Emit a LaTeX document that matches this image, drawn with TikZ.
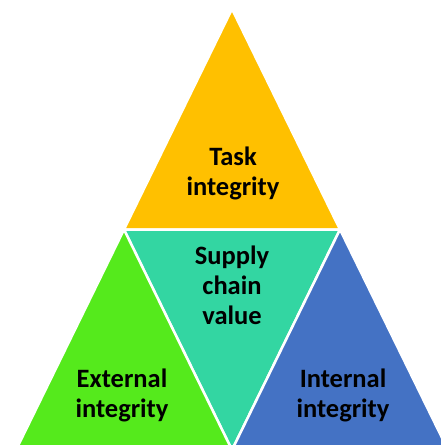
\documentclass[tikz,border=0pt]{standalone}
\usepackage{fontspec}
\setmainfont{Carlito}
\definecolor{cTop}{HTML}{FFC000}
\definecolor{cMid}{HTML}{33D6A2}
\definecolor{cLeft}{HTML}{55EA1C}
\definecolor{cRight}{HTML}{4472C4}
\tikzset{
  tri/.style={draw=white, line width=2.5pt, line join=miter},
  lbl/.style={align=center, font=\fontsize{26.5}{30}\selectfont\bfseries, text=black, inner sep=0pt}
}
\begin{document}
\begin{tikzpicture}[x=1pt,y=-1pt]
\useasboundingbox (0,0) rectangle (441,445);
\begin{scope}
\clip (0,0) rectangle (441,445);
\fill[white] (0,0) rectangle (441,445);
\filldraw[tri, fill=cTop] (232,9) -- (340,229.5) -- (124,229.5) -- cycle;
\filldraw[tri, fill=cMid] (124,229.5) -- (340,229.5) -- (232,450) -- cycle;
\filldraw[tri, fill=cLeft] (124,229.5) -- (232,450) -- (16,450) -- cycle;
\filldraw[tri, fill=cRight] (340,229.5) -- (448,450) -- (232,450) -- cycle;
\end{scope}
\node[lbl] (task) at (233,173) {Task\\integrity};
\node[lbl] (supply) at (232,285) {Supply\\chain\\value};
\node[lbl] (ext) at (122,395) {External\\integrity};
\node[lbl] (int) at (343,395) {Internal\\integrity};
\end{tikzpicture}
\end{document}
